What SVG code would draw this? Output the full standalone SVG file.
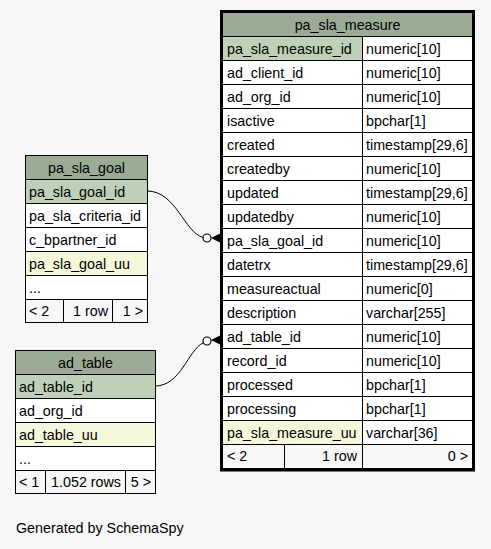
<svg xmlns="http://www.w3.org/2000/svg" width="491" height="549" viewBox="0 0 491 549">
<style>
text{font-family:"Liberation Sans",Arial,sans-serif;font-size:14.3px;fill:#000}
.c{stroke:#000;stroke-width:1}
.h{fill:#9bab96}
.pk{fill:#bed1b8}
.w{fill:#fff}
.ix{fill:#f4f7da}
.ft{fill:#f7f7f7}
.m{text-anchor:middle}
.e{text-anchor:end}
.edge{fill:none;stroke:#000;stroke-width:1}
</style>
<rect width="491" height="549" fill="#f7f7f7"/>
<g id="pa_sla_goal">
<rect class="c h" x="25.5" y="155.5" width="122" height="24"/>
<text class="m" x="86.5" y="173">pa_sla_goal</text>
<rect class="c pk" x="25.5" y="179.5" width="122" height="24"/>
<text x="29" y="197">pa_sla_goal_id</text>
<rect class="c w" x="25.5" y="203.5" width="122" height="24"/>
<text x="29" y="221">pa_sla_criteria_id</text>
<rect class="c w" x="25.5" y="227.5" width="122" height="24"/>
<text x="29" y="245">c_bpartner_id</text>
<rect class="c ix" x="25.5" y="251.5" width="122" height="24"/>
<text x="29" y="269">pa_sla_goal_uu</text>
<rect class="c w" x="25.5" y="275.5" width="122" height="24"/>
<text x="29" y="293">...</text>
<rect class="c ft" x="25.5" y="299.5" width="38" height="23"/>
<rect class="c ft" x="63.5" y="299.5" width="49" height="23"/>
<rect class="c ft" x="112.5" y="299.5" width="35" height="23"/>
<text x="29" y="316">&lt; 2</text>
<text class="e" x="108" y="316">1 row</text>
<text class="e" x="143" y="316">1 &gt;</text>
</g>
<g id="ad_table">
<rect class="c h" x="15.5" y="350.5" width="140" height="24"/>
<text class="m" x="85.5" y="368">ad_table</text>
<rect class="c pk" x="15.5" y="374.5" width="140" height="24"/>
<text x="19" y="392">ad_table_id</text>
<rect class="c w" x="15.5" y="398.5" width="140" height="24"/>
<text x="19" y="416">ad_org_id</text>
<rect class="c ix" x="15.5" y="422.5" width="140" height="24"/>
<text x="19" y="440">ad_table_uu</text>
<rect class="c w" x="15.5" y="446.5" width="140" height="24"/>
<text x="19" y="464">...</text>
<rect class="c ft" x="15.5" y="470.5" width="30" height="23"/>
<rect class="c ft" x="45.5" y="470.5" width="80" height="23"/>
<rect class="c ft" x="125.5" y="470.5" width="30" height="23"/>
<text x="19" y="487">&lt; 1</text>
<text class="e" x="121" y="487">1.052 rows</text>
<text class="e" x="151" y="487">5 &gt;</text>
</g>
<g id="pa_sla_measure">
<rect class="c h" x="222.5" y="12.5" width="250" height="24"/>
<text class="m" x="347.5" y="30">pa_sla_measure</text>
<rect class="c pk" x="222.5" y="36.5" width="140" height="24"/><rect class="c w" x="362.5" y="36.5" width="110" height="24"/>
<text x="227" y="54">pa_sla_measure_id</text><text x="366" y="54">numeric[10]</text>
<rect class="c w" x="222.5" y="60.5" width="140" height="24"/><rect class="c w" x="362.5" y="60.5" width="110" height="24"/>
<text x="227" y="78">ad_client_id</text><text x="366" y="78">numeric[10]</text>
<rect class="c w" x="222.5" y="84.5" width="140" height="24"/><rect class="c w" x="362.5" y="84.5" width="110" height="24"/>
<text x="227" y="102">ad_org_id</text><text x="366" y="102">numeric[10]</text>
<rect class="c w" x="222.5" y="108.5" width="140" height="24"/><rect class="c w" x="362.5" y="108.5" width="110" height="24"/>
<text x="227" y="126">isactive</text><text x="366" y="126">bpchar[1]</text>
<rect class="c w" x="222.5" y="132.5" width="140" height="24"/><rect class="c w" x="362.5" y="132.5" width="110" height="24"/>
<text x="227" y="150">created</text><text x="366" y="150">timestamp[29,6]</text>
<rect class="c w" x="222.5" y="156.5" width="140" height="24"/><rect class="c w" x="362.5" y="156.5" width="110" height="24"/>
<text x="227" y="174">createdby</text><text x="366" y="174">numeric[10]</text>
<rect class="c w" x="222.5" y="180.5" width="140" height="24"/><rect class="c w" x="362.5" y="180.5" width="110" height="24"/>
<text x="227" y="198">updated</text><text x="366" y="198">timestamp[29,6]</text>
<rect class="c w" x="222.5" y="204.5" width="140" height="24"/><rect class="c w" x="362.5" y="204.5" width="110" height="24"/>
<text x="227" y="222">updatedby</text><text x="366" y="222">numeric[10]</text>
<rect class="c w" x="222.5" y="228.5" width="140" height="24"/><rect class="c w" x="362.5" y="228.5" width="110" height="24"/>
<text x="227" y="246">pa_sla_goal_id</text><text x="366" y="246">numeric[10]</text>
<rect class="c w" x="222.5" y="252.5" width="140" height="24"/><rect class="c w" x="362.5" y="252.5" width="110" height="24"/>
<text x="227" y="270">datetrx</text><text x="366" y="270">timestamp[29,6]</text>
<rect class="c w" x="222.5" y="276.5" width="140" height="24"/><rect class="c w" x="362.5" y="276.5" width="110" height="24"/>
<text x="227" y="294">measureactual</text><text x="366" y="294">numeric[0]</text>
<rect class="c w" x="222.5" y="300.5" width="140" height="24"/><rect class="c w" x="362.5" y="300.5" width="110" height="24"/>
<text x="227" y="318">description</text><text x="366" y="318">varchar[255]</text>
<rect class="c w" x="222.5" y="324.5" width="140" height="24"/><rect class="c w" x="362.5" y="324.5" width="110" height="24"/>
<text x="227" y="342">ad_table_id</text><text x="366" y="342">numeric[10]</text>
<rect class="c w" x="222.5" y="348.5" width="140" height="24"/><rect class="c w" x="362.5" y="348.5" width="110" height="24"/>
<text x="227" y="366">record_id</text><text x="366" y="366">numeric[10]</text>
<rect class="c w" x="222.5" y="372.5" width="140" height="24"/><rect class="c w" x="362.5" y="372.5" width="110" height="24"/>
<text x="227" y="390">processed</text><text x="366" y="390">bpchar[1]</text>
<rect class="c w" x="222.5" y="396.5" width="140" height="24"/><rect class="c w" x="362.5" y="396.5" width="110" height="24"/>
<text x="227" y="414">processing</text><text x="366" y="414">bpchar[1]</text>
<rect class="c ix" x="222.5" y="420.5" width="140" height="24"/><rect class="c w" x="362.5" y="420.5" width="110" height="24"/>
<text x="227" y="438">pa_sla_measure_uu</text><text x="366" y="438">varchar[36]</text>
<rect class="c ft" x="222.5" y="444.5" width="62" height="24"/><rect class="c ft" x="284.5" y="444.5" width="78" height="24"/><rect class="c ft" x="362.5" y="444.5" width="110" height="24"/>
<text x="227" y="461">&lt; 2</text><text class="e" x="357" y="461">1 row</text><text class="e" x="468" y="461">0 &gt;</text>
<rect x="221.5" y="11.5" width="252" height="458.5" fill="none" stroke="#000" stroke-width="3"/>
</g>
<g id="connectors">
<path class="edge" d="M147,191 C176,191 184,232 203,237.5"/>
<circle cx="207" cy="238" r="4" fill="none" stroke="#000" stroke-width="1.2"/>
<path d="M211,238 L221,233 L221,243 Z" fill="#000"/>
<path class="edge" d="M155,386 C181,386 188,350 203,343"/>
<circle cx="207" cy="341" r="4" fill="none" stroke="#000" stroke-width="1.2"/>
<path d="M211,340 L221,335 L221,345 Z" fill="#000"/>
</g>
<text x="16" y="533">Generated by SchemaSpy</text>
</svg>
